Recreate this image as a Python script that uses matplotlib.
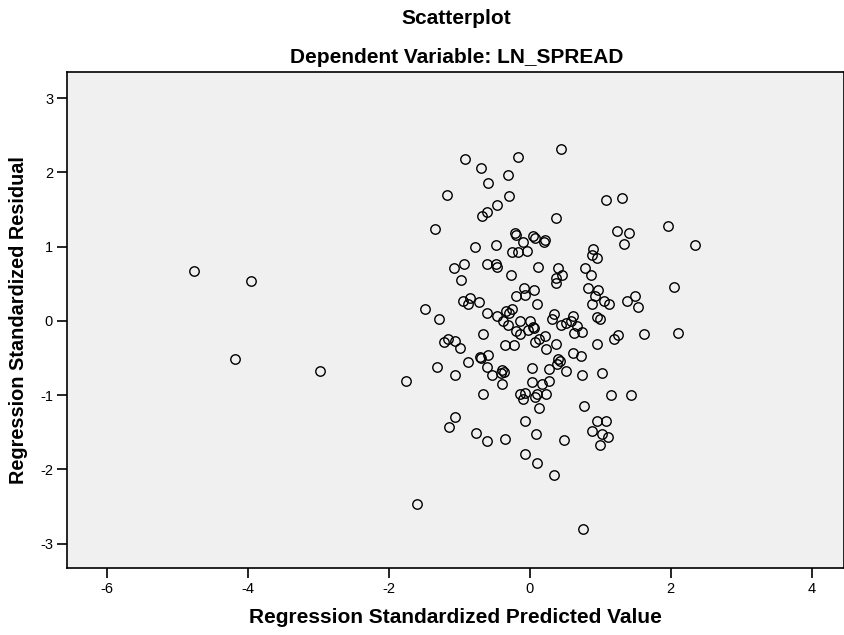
import numpy as np
import matplotlib.pyplot as plt

plt.rcParams['font.family'] = ['Liberation Sans', 'DejaVu Sans']
plt.rcParams['axes.unicode_minus'] = False

# standardized predicted value (x) and standardized residual (y)
pred = [-4.76, -3.95, -4.18, -2.97, -1.76, -1.60,
        -0.92, -0.17, -0.69, -0.31, -0.59, -1.17, -0.29, -0.46, -0.61, -0.67,
        -1.34, -0.21, -0.19, 0.04, 0.08, -0.09, -0.77, -0.48, -0.25, -0.16,
        -0.04, -1.07, -0.93, -0.61, -0.48, -0.47, 0.12,
        0.44, 1.08, 1.31, 0.38, 1.24, 1.41, 1.96, 1.33, 2.34, 0.22, 0.20,
        0.90, 0.88, 0.96, 0.40, 0.78,
        -0.97, -0.27, -1.49, -1.28, -0.95, -0.84, -0.87, -0.72, -0.60, -0.47,
        -0.38, -0.31, -0.33, -0.29, -0.25, -0.20, -0.08, -0.07, 0.06, 0.11,
        -0.14, 0.00, -0.20, -0.14, -0.02, 0.04, 0.06, 0.08, -0.66, -1.22,
        -1.16, -1.06, -0.99, -0.35, -0.22, -0.87, -0.71, -0.69, -0.59, -1.32,
        -1.06, -0.61, -0.54, -0.39, -0.37, -0.41, 0.03,
        0.46, 0.38, 0.37, 0.87, 0.82, 0.97, 0.92, 0.88, 1.06, 1.13, 1.49,
        1.38, 1.54, 2.05, 0.34, 0.32, 0.61, 0.58, 0.52, 0.44, 0.67, 0.63,
        0.74, 0.95, 0.99, 0.22, 0.13, 0.37, 0.23, 0.95, 1.25, 1.20, 1.62,
        2.10, 0.61, 0.73, 0.40, 0.43, 0.39, 0.27, 0.52, 0.74, 1.03,
        -0.39, -0.66, 0.03, -0.14, -0.07, -0.10, 0.08, 0.10, 0.13, -1.06,
        -1.14, -0.76, -0.61, -0.35, -0.07, 0.09, -0.07, 0.11,
        0.17, 0.27, 0.23, 1.15, 1.44, 0.77, 0.95, 1.08, 0.88, 1.03, 1.11,
        1.00, 0.49, 0.35, 0.76]

resid = [0.67, 0.54, -0.52, -0.68, -0.81, -2.47,
         2.18, 2.20, 2.06, 1.96, 1.85, 1.69, 1.68, 1.56, 1.46, 1.41,
         1.24, 1.18, 1.16, 1.14, 1.12, 1.06, 1.00, 1.02, 0.93, 0.93,
         0.94, 0.71, 0.77, 0.77, 0.76, 0.73, 0.72,
         2.31, 1.63, 1.65, 1.39, 1.21, 1.18, 1.27, 1.03, 1.02, 1.09, 1.06,
         0.97, 0.89, 0.85, 0.71, 0.71,
         0.55, 0.62, 0.16, 0.02, 0.26, 0.31, 0.22, 0.25, 0.11, 0.07,
         0.00, -0.06, 0.13, 0.11, 0.16, 0.33, 0.44, 0.35, 0.41, 0.23,
         0.00, 0.00, -0.14, -0.18, -0.12, -0.08, -0.10, -0.28, -0.18, -0.28,
         -0.25, -0.27, -0.36, -0.33, -0.32, -0.56, -0.49, -0.50, -0.46, -0.62,
         -0.73, -0.62, -0.73, -0.66, -0.69, -0.71, -0.63,
         0.61, 0.57, 0.51, 0.61, 0.44, 0.42, 0.33, 0.23, 0.27, 0.22, 0.34,
         0.26, 0.19, 0.45, 0.09, 0.03, 0.07, 0.00, -0.03, -0.06, -0.07, -0.17,
         -0.15, 0.05, 0.03, -0.20, -0.25, -0.31, -0.38, -0.31, -0.19, -0.24, -0.18,
         -0.17, -0.43, -0.48, -0.52, -0.54, -0.58, -0.65, -0.68, -0.73, -0.70,
         -0.85, -0.99, -0.83, -0.99, -0.97, -1.05, -1.03, -0.99, -1.18, -1.30,
         -1.43, -1.51, -1.62, -1.59, -1.35, -1.52, -1.79, -1.92,
         -0.85, -0.81, -0.98, -1.00, -1.00, -1.15, -1.35, -1.35, -1.48, -1.52, -1.57,
         -1.67, -1.60, -2.08, -2.81]

xticks = [-6, -4, -2, 0, 2, 4]
yticks = [-3, -2, -1, 0, 1, 2, 3]

fig = plt.figure(figsize=(8.45, 6.35), dpi=100)
ax = fig.add_axes([0.0793, 0.1055, 0.919, 0.781])
ax.set_facecolor('#f0f0f0')

ax.plot(pred, resid, 'o', ls='none', ms=6.8, mfc='none', mec='black', mew=1.0)

ax.set_xlim(-6.56, 4.45)
ax.set_ylim(-3.33, 3.35)
ax.set_xticks(xticks)
ax.set_yticks(yticks)
ax.tick_params(direction='out', length=7, width=1.2, labelsize=10.5, pad=3)
for s in ax.spines.values():
    s.set_linewidth(1.2)

ax.set_xlabel('Regression Standardized Predicted Value', fontsize=15,
              fontweight='bold', labelpad=9)
ax.set_ylabel('Regression Standardized Residual', fontsize=14.3,
              fontweight='bold', labelpad=9)

fig.text(0.54, 0.971, 'Scatterplot', ha='center', va='center',
         fontsize=15, fontweight='bold')
fig.text(0.54, 0.910, 'Dependent Variable: LN_SPREAD', ha='center', va='center',
         fontsize=15, fontweight='bold')

plt.savefig('out.png', dpi=100)
